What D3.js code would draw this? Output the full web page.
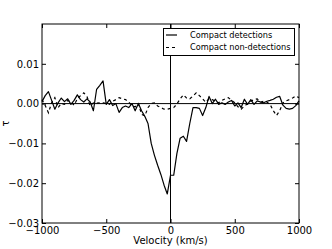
<!DOCTYPE html>
<html>
<head>
<meta charset="utf-8">
<script src="https://cdn.jsdelivr.net/npm/d3@7"></script>
<style>
  body { margin: 0; background: #fff; }
  svg { display: block; font-family: "DejaVu Sans", sans-serif; }
</style>
</head>
<body>
<svg id="chart" width="332" height="249"></svg>
<script>
// Velocity grid (km/s)
const velocity = [
  -1000, -975, -950, -925, -900, -875, -850, -825, -800, -775,
  -750, -725, -700, -675, -650, -625, -600, -575, -550, -525,
  -500, -475, -450, -425, -400, -375, -350, -325, -300, -275,
  -250, -225, -200, -175, -150, -125, -100, -75, -50, -25,
  0, 25, 50, 75, 100, 125, 150, 175, 200, 225,
  250, 275, 300, 325, 350, 375, 400, 425, 450, 475,
  500, 525, 550, 575, 600, 625, 650, 675, 700, 725,
  750, 775, 800, 825, 850, 875, 900, 925, 950, 975, 1000
];

// Stacked optical depth, compact detections
const tauDetections = [
  0.0005, 0.0020, 0.0030, 0.0008, -0.0014, 0.0002, 0.0014, 0.0005, 0.0012, -0.0002,
  0.0008, 0.0022, 0.0010, 0.0004, 0.0012, 0.0004, -0.0018, 0.0036, 0.0046, 0.0057,
  -0.0002, 0.0010, -0.0005, 0.0000, -0.0022, -0.0010, -0.0006, -0.0010, 0.0000, -0.0018,
  0.0000, -0.0018, -0.0032, -0.0050, -0.0100, -0.0130, -0.0155, -0.0178, -0.0205, -0.0227,
  -0.0180, -0.0180, -0.0125, -0.0087, -0.0082, -0.0095, -0.0050, -0.0010, -0.0010, -0.0012,
  -0.0030, -0.0010, 0.0018, 0.0000, 0.0011, -0.0002, 0.0002, -0.0002, 0.0004, 0.0008,
  -0.0006, 0.0002, -0.0010, 0.0011, -0.0002, 0.0010, -0.0002, 0.0007, 0.0004, 0.0002,
  0.0006, 0.0008, 0.0011, 0.0016, 0.0018, -0.0004, -0.0012, -0.0014, -0.0012, -0.0005, 0.0007
];

// Stacked optical depth, compact non-detections
const tauNonDetections = [
  0.0010, -0.0005, -0.0023, 0.0002, 0.0015, -0.0010, 0.0000, -0.0002, 0.0008, 0.0004,
  -0.0004, 0.0012, 0.0020, 0.0027, 0.0018, -0.0006, 0.0002, 0.0001, 0.0002, 0.0002,
  0.0000, -0.0002, 0.0006, 0.0010, 0.0015, 0.0012, 0.0010, 0.0004, -0.0006, -0.0008,
  0.0000, -0.0027, -0.0031, -0.0010, 0.0000, 0.0002, -0.0006, -0.0010, -0.0014, -0.0014,
  -0.0012, -0.0010, -0.0001, 0.0012, 0.0022, 0.0014, 0.0012, 0.0019, 0.0027, 0.0020,
  0.0012, 0.0003, 0.0012, 0.0010, 0.0006, 0.0002, 0.0008, 0.0012, 0.0015, 0.0008,
  0.0002, -0.0008, -0.0014, -0.0006, 0.0000, 0.0006, 0.0010, 0.0012, 0.0004, 0.0006,
  0.0004, -0.0002, -0.0018, -0.0030, -0.0018, 0.0002, 0.0007, 0.0010, 0.0014, 0.0019, 0.0015
];

const xTicks = [-1000, -500, 0, 500, 1000];
const yTicks = [-0.03, -0.02, -0.01, 0.00, 0.01];
const seriesNames = ["Compact detections", "Compact non-detections"];

const minus = s => s.replace("-", "\u2212");

class Chart {
  constructor(svg) {
    this.svg = svg;
    this.margin = { left: 42, right: 299, top: 24, bottom: 223 };

    this.x = d3.scaleLinear().domain([-1000, 1000]).range([this.margin.left, this.margin.right]);
    this.y = d3.scaleLinear().domain([-0.03, 0.02]).range([this.margin.bottom, this.margin.top]);
  }

  draw() {
    const svg = this.svg;
    const x = this.x;
    const y = this.y;
    const m = this.margin;
    const tickLen = 4;

    // Reference lines at zero
    svg.append("line")
      .attr("x1", x(0)).attr("x2", x(0))
      .attr("y1", m.top).attr("y2", m.bottom)
      .attr("stroke", "#000").attr("stroke-width", 1);
    svg.append("line")
      .attr("x1", m.left).attr("x2", m.right)
      .attr("y1", y(0)).attr("y2", y(0))
      .attr("stroke", "#000").attr("stroke-width", 1);

    const line = tau => d3.line()
      .x((d, i) => x(velocity[i]))
      .y(d => y(d))(tau);

    svg.append("path")
      .attr("d", line(tauNonDetections))
      .attr("fill", "none")
      .attr("stroke", "#000")
      .attr("stroke-width", 1.2)
      .attr("stroke-dasharray", "3,3");

    svg.append("path")
      .attr("d", line(tauDetections))
      .attr("fill", "none")
      .attr("stroke", "#000")
      .attr("stroke-width", 1.2)
      .attr("stroke-linejoin", "round");

    // Axes with inward ticks on all four sides
    const bottom = svg.append("g")
      .attr("transform", `translate(0,${m.bottom})`)
      .call(d3.axisBottom(x).tickValues(xTicks).tickSizeInner(-tickLen).tickSizeOuter(0)
        .tickPadding(4).tickFormat(d => minus(String(d))));
    const top = svg.append("g")
      .attr("transform", `translate(0,${m.top})`)
      .call(d3.axisTop(x).tickValues(xTicks).tickSizeInner(-tickLen).tickSizeOuter(0)
        .tickFormat(""));
    const left = svg.append("g")
      .attr("transform", `translate(${m.left},0)`)
      .call(d3.axisLeft(y).tickValues(yTicks).tickSizeInner(-tickLen).tickSizeOuter(0)
        .tickPadding(3).tickFormat(d => minus(d3.format(".2f")(d))));
    const right = svg.append("g")
      .attr("transform", `translate(${m.right},0)`)
      .call(d3.axisRight(y).tickValues(yTicks).tickSizeInner(-tickLen).tickSizeOuter(0)
        .tickFormat(""));

    [bottom, top, left, right].forEach(g => {
      g.select(".domain").remove();
      g.selectAll("line").attr("stroke", "#000");
      g.selectAll("text").attr("fill", "#000").attr("font-size", 10)
        .attr("font-family", "DejaVu Sans");
    });

    // Frame
    svg.append("rect")
      .attr("x", m.left).attr("y", m.top)
      .attr("width", m.right - m.left).attr("height", m.bottom - m.top)
      .attr("fill", "none").attr("stroke", "#000").attr("stroke-width", 1);

    // Axis labels
    svg.append("text")
      .attr("x", (m.left + m.right) / 2).attr("y", 244)
      .attr("text-anchor", "middle").attr("font-size", 10)
      .text("Velocity (km/s)");
    svg.append("text")
      .attr("transform", `translate(9,${(m.top + m.bottom) / 2}) rotate(-90)`)
      .attr("text-anchor", "middle").attr("font-size", 10)
      .text("\u03c4");

    // Legend
    const legend = svg.append("g");
    legend.append("rect")
      .attr("x", 163.5).attr("y", 28.5).attr("width", 131).attr("height", 27)
      .attr("fill", "#fff").attr("stroke", "#000").attr("stroke-width", 1);
    seriesNames.forEach((name, i) => {
      const cy = 35 + i * 12.5;
      legend.append("line")
        .attr("x1", 166).attr("x2", 177).attr("y1", cy).attr("y2", cy)
        .attr("stroke", "#000").attr("stroke-width", 1.2)
        .attr("stroke-dasharray", i === 1 ? "3,3" : null);
      legend.append("text")
        .attr("x", 190).attr("y", cy).attr("dy", "0.35em")
        .attr("font-size", 8.2)
        .text(name);
    });
  }
}

new Chart(d3.select("#chart")).draw();
</script>
</body>
</html>
